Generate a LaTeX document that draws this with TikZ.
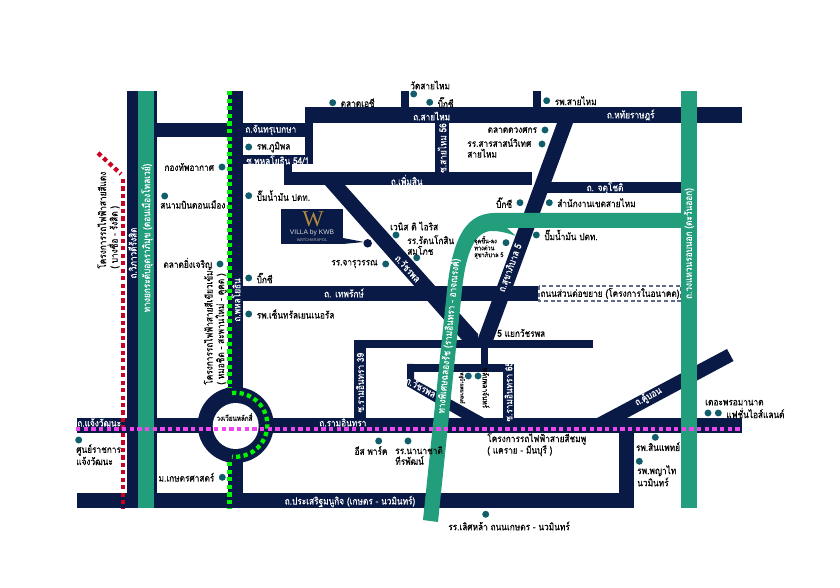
\documentclass[tikz,border=0pt]{standalone}
\usepackage{fontspec}
\usepackage{xcolor}
\usepackage{tikz}
\usetikzlibrary{positioning,arrows.meta,calc}
\setmainfont[Script=Thai,FakeStretch=0.84,FakeBold=0.25]{Loma}
\newfontfamily\logofont{Liberation Serif}
\newfontfamily\logosans{Liberation Sans}
\definecolor{roadnavy}{RGB}{10,26,70}
\definecolor{tollgreen}{RGB}{34,158,124}
\definecolor{poiteal}{RGB}{16,94,108}
\definecolor{linered}{RGB}{204,0,34}
\definecolor{linelime}{RGB}{0,245,0}
\definecolor{linepink}{RGB}{240,70,240}
\definecolor{logogold}{RGB}{176,136,60}

\begin{document}
\begin{tikzpicture}[
    x=0.75pt,
    y=-0.75pt,
    road/.style={fill=roadnavy, draw=none},
    toll/.style={fill=tollgreen, draw=none},
    poi/.style={circle, fill=poiteal, minimum size=5.2pt, inner sep=0pt},
    place_label/.style={font=\fontsize{7.4}{8}\selectfont, text=black, inner sep=0pt, align=left},
    road_label/.style={font=\fontsize{7.4}{8}\selectfont, text=white, inner sep=0pt},
    rail_label/.style={font=\fontsize{7.4}{8.6}\selectfont, text=black, inner sep=0pt, align=left},
    tiny_label/.style={font=\fontsize{5}{5.2}\selectfont, text=black, inner sep=0pt, align=left},
    rail_red/.style={draw=linered, line width=3.2pt, dash pattern=on 3.2pt off 2.4pt},
    rail_lime/.style={draw=linelime, line width=3.2pt, dash pattern=on 3.2pt off 2.5pt},
    rail_pink/.style={draw=linepink, line width=3.2pt, dash pattern=on 3.2pt off 2.55pt}
]
\useasboundingbox (0,0) rectangle (840,588);
\fill[white] (0,0) rectangle (840,588);

% Roads
\fill[road] (127,91) rectangle (157,508);
\fill[road] (228,91) rectangle (243,508);
\fill[road] (157,123) rectangle (312,137);
\fill[road] (305,107) rectangle (742,123);
\fill[road] (305,107) rectangle (313,164);
\fill[road] (243,155) rectangle (313,164);
\fill[road] (284,164) rectangle (292,172);
\fill[road] (284,172) rectangle (532,185);
\fill[road] (540,182.5) rectangle (682,193.5);
\fill[road] (435,123) rectangle (449,172);
\fill[road] (401,91) rectangle (409,107);
\fill[road] (533,91) rectangle (541,107);
\fill[road] (243,286) rectangle (538,301);
\fill[road] (77,418) rectangle (742,433);
\fill[road] (77,493) rectangle (634,508);
\fill[road] (619,433) rectangle (634,508);
\fill[road] (354,340) rectangle (593,348);
\fill[road] (354,340) rectangle (366,418);
\fill[road] (481,348) rectangle (488,364);
\fill[road] (407,364) rectangle (514,372);
\fill[road] (503,364) rectangle (514,418);
\fill[road] (325,185) -- (345,185) -- (478,334) -- (478,342) -- (462,340) -- cycle;
\fill[road] (557,123) -- (573,123) -- (493,341) -- (477,341) -- cycle;
\fill[road] (407,364) -- (414,364) -- (414,379) -- (484,418) -- (462,418) -- (407,386) -- cycle;
\fill[road] (597,418) -- (727,349) -- (733.5,361) -- (627,418) -- cycle;
\fill[road] (235.7,425) circle (38);
\fill[white] (235.7,426) circle (23);

% Future extension
\draw[roadnavy!65, dash pattern=on 3pt off 2pt, line width=0.8pt, fill=white] (539,286) rectangle (681,301);

% Toll ways
\fill[toll] (138,91) rectangle (154,508);
\fill[toll] (681,91) rectangle (697,508);
\fill[toll] (423,520) -- (446,300) .. controls (451,245) and (462,213) .. (495,213) -- (690,213) -- (690,228) -- (507,228) -- (516,236) .. controls (505,232) and (498,231) .. (492,231) .. controls (476,231) and (466,250) .. (462,290) -- (438,522) -- cycle;

% Rail lines
\draw[rail_red] (98,153) -- (121,174);
\draw[rail_red] (123,179) -- (123,508);
\draw[rail_lime] (229.5,91) -- (229.5,388);
\draw[rail_lime] (232,393) arc[start angle=-96, end angle=96, radius=32];
\draw[rail_lime] (229.5,462) -- (229.5,508);
\draw[rail_pink] (76,429) -- (741,429);

% Logo
\fill[roadnavy] (281,209) rectangle (343,244);
\fill[roadnavy] (343,238) -- (364,242) -- (343,244) -- cycle;
\node[poi, fill=roadnavy, minimum size=6.4pt] (villa) at (367.7,243.3) {};
\node[inner sep=0pt, text=logogold, font=\logofont\fontsize{17}{17}\selectfont] (logo_w) at (313,219) {W};
\node[inner sep=0pt, text=white!85!black, font=\logosans\fontsize{5}{5}\selectfont] (logo_name) at (312,232.5) {VILLA by KWB};
\node[inner sep=0pt, text=white!70!black, font=\logosans\fontsize{3}{3}\selectfont] (logo_sub) at (312,240) {WATCHARAPOL};

% Road labels
\node[road_label, rotate=90] (vibhavadi) at (132.5,253) {ถ.วิภาวดีรังสิต};
\node[road_label, rotate=90] (donmueang) at (147,238) {ทางยกระดับอุตราภิมุข (ดอนเมืองโทลเวย์)};
\node[road_label, rotate=90] (phahon) at (236,300) {ถ.พหลโยธิน};
\node[road_label, anchor=west] (chan) at (245,130) {ถ.จันทรุเบกษา};
\node[road_label, anchor=west] (soi541) at (246,160) {ซ.พหลโยธิน 54/1};
\node[road_label] (saimai) at (431.7,116) {ถ.สายไหม};
\node[road_label] (hathai) at (630.7,115) {ถ.หทัยราษฎร์};
\node[road_label, rotate=90] (soi56) at (442,148) {ซ.สายไหม 56};
\node[road_label] (phoemsin) at (406.7,180) {ถ.เพิ่มสิน};
\node[road_label] (jatu) at (605,188) {ถ. จตุโชติ};
\node[road_label, rotate=69.7] (sukha5) at (510.7,268) {ถ.สุขาภิบาล 5};
\node[road_label, rotate=-48] (watcharaphon) at (408,268.3) {ถ.วัชรพล};
\node[road_label] (thepharak) at (344,293) {ถ. เทพรักษ์};
\node[road_label, rotate=84.5] (chalong) at (448.5,336) {ทางพิเศษฉลองรัช (รามอินทรา - อาจณรงค์)};
\node[road_label, rotate=90] (outer) at (689,243.5) {ถ.วงแหวนรอบนอก (ตะวันออก)};
\node[road_label, rotate=90] (soi39) at (360,382.7) {ซ.รามอินทรา 39};
\node[road_label, rotate=90] (soi65) at (508.5,391.7) {ซ.รามอินทรา 65};
\node[road_label, rotate=-28] (watcharaphon2) at (421,387) {ถ.วัชรพล};
\node[road_label, anchor=west] (ramintra) at (319,422.5) {ถ.รามอินทรา};
\node[road_label, anchor=west] (chaeng) at (77,422.5) {ถ.แจ้งวัฒนะ};
\node[road_label] (prasert) at (350,501.5) {ถ.ประเสริฐมนูกิจ (เกษตร - นวมินทร์)};
\node[road_label, rotate=28] (khubon) at (648.3,396.7) {ถ.คู้บอน};

% Place labels
\node[place_label] (future) at (610,293.5) {ถนนส่วนต่อขยาย (โครงการในอนาคต)};
\node[place_label, anchor=west] (fiveway) at (497,333) {5 แยกวัชรพล};
\node[place_label, font=\fontsize{5.6}{6}\selectfont] (laksi) at (234.5,417) {วงเวียนหลักสี่};

% Rail labels
\node[rail_label, rotate=90, anchor=north west] (red_label) at (97,269) {โครงการรถไฟฟ้าสายสีแดง\\( บางซื่อ - รังสิต )};
\node[rail_label, rotate=90, anchor=north west] (lime_label) at (203.5,385) {โครงการรถไฟฟ้าสายสีเขียวเข้ม\\( หมอชิต - สะพานใหม่ - คูคต )};
\node[rail_label, anchor=north west] (pink_label) at (487,433) {โครงการรถไฟฟ้าสายสีชมพู\\( แคราย - มีนบุรี )};

% Points of interest
\node[poi] (bhumibol) at (248.7,147) {};
\node[place_label, right=3pt of bhumibol] (bhumibol_t) {รพ.ภูมิพล};
\node[poi] (airforce) at (222,167) {};
\node[place_label, left=3pt of airforce] (airforce_t) {กองทัพอากาศ};
\node[poi] (ptt1) at (248.7,195.7) {};
\node[place_label, right=3pt of ptt1] (ptt1_t) {ปั๊มน้ำมัน ปตท.};
\node[poi] (airport) at (164.7,196) {};
\node[place_label, anchor=west] (airport_t) at (160,204.5) {สนามบินดอนเมือง};
\node[poi] (yingcharoen) at (220,264) {};
\node[place_label, left=3pt of yingcharoen] (yingcharoen_t) {ตลาดยิ่งเจริญ};
\node[poi] (bigc1) at (248.7,278) {};
\node[place_label, right=3pt of bigc1] (bigc1_t) {บิ๊กซี};
\node[poi] (central) at (248.7,314) {};
\node[place_label, right=3pt of central] (central_t) {รพ.เซ็นทรัลเยนเนอรัล};
\node[poi] (ac) at (332.7,102.7) {};
\node[place_label, right=3pt of ac] (ac_t) {ตลาดเอซี};
\node[poi] (watsaimai) at (413.7,94) {};
\node[place_label, anchor=west] (watsaimai_t) at (410,85) {วัดสายไหม};
\node[poi] (bigc2) at (429.7,102.3) {};
\node[place_label, right=3pt of bigc2] (bigc2_t) {บิ๊กซี};
\node[poi] (rpsaimai) at (546.7,100.7) {};
\node[place_label, right=3pt of rpsaimai] (rpsaimai_t) {รพ.สายไหม};
\node[poi] (duangsakon) at (545,130) {};
\node[place_label, left=3pt of duangsakon] (duangsakon_t) {ตลาดดวงศกร};
\node[poi] (sarasas) at (542,144) {};
\node[place_label, anchor=north west] (sarasas_t) at (467,138) {รร.สารสาสน์วิเทศ\\สายไหม};
\node[poi] (bigc3) at (520,202.7) {};
\node[place_label, left=3pt of bigc3] (bigc3_t) {บิ๊กซี};
\node[poi] (district) at (549.3,202.7) {};
\node[place_label, right=3pt of district] (district_t) {สำนักงานเขตสายไหม};
\node[poi] (ptt2) at (536.3,235) {};
\node[place_label, right=3pt of ptt2] (ptt2_t) {ปั๊มน้ำมัน ปตท.};
\node[poi] (ramp) at (506,242.7) {};
\node[tiny_label, anchor=north west] (ramp_t) at (474,236) {จุดขึ้น-ลง\\ทางด่วน\\สุขาภิบาล 5};
\node[poi] (venice) at (396,235) {};
\node[place_label, anchor=west] (venice_t) at (390,226) {เวนิส ดิ ไอริส};
\node[poi] (rattana) at (416.7,257.7) {};
\node[place_label, anchor=north west] (rattana_t) at (407,235) {รร.รัตนโกสิน\\สมโภช};
\node[poi] (charu) at (385.7,264) {};
\node[place_label, left=3pt of charu] (charu_t) {รร.จารุวรรณ};
\node[poi] (moo1) at (468.3,376) {};
\node[poi] (moo2) at (478,376) {};
\node[tiny_label, rotate=-90, font=\fontsize{4}{4}\selectfont] (moo1_t) at (462,388) {หมู่บ้านพนาสนธ์};
\node[place_label, rotate=-90, font=\fontsize{5.8}{6}\selectfont] (moo2_t) at (486,388) {พลับพลาจันทร์};
\node[poi] (government) at (78.7,440) {};
\node[place_label, anchor=north west] (government_t) at (76,444) {ศูนย์ราชการ\\แจ้งวัฒนะ};
\node[poi] (kaset) at (222.3,477.3) {};
\node[place_label, left=3pt of kaset] (kaset_t) {ม.เกษตรศาสตร์};
\node[poi] (east) at (378.7,441) {};
\node[place_label] (east_t) at (371,450.5) {อีส พาร์ค};
\node[poi] (nanachat) at (408,441) {};
\node[place_label, anchor=north west] (nanachat_t) at (395,446) {รร.นานาชาติ\\ทีรพัฒน์};
\node[poi] (loetla) at (485.7,514.3) {};
\node[place_label] (loetla_t) at (509,526) {รร.เลิศหล้า ถนนเกษตร - นวมินทร์};
\node[poi] (prom1) at (708,413) {};
\node[poi] (prom2) at (718.3,413) {};
\node[place_label, anchor=west] (prom1_t) at (705,402.7) {เดอะพรอมานาด};
\node[place_label, right=3pt of prom2] (prom2_t) {แฟชั่นไอส์แลนด์};
\node[poi] (synphaet) at (655.3,437.3) {};
\node[place_label, anchor=west] (synphaet_t) at (635.7,446.7) {รพ.สินแพทย์};
\node[poi] (phyathai) at (639.3,461.3) {};
\node[place_label, anchor=north west] (phyathai_t) at (637,465) {รพ.พญาไท\\นวมินทร์};
\end{tikzpicture}
\end{document}
